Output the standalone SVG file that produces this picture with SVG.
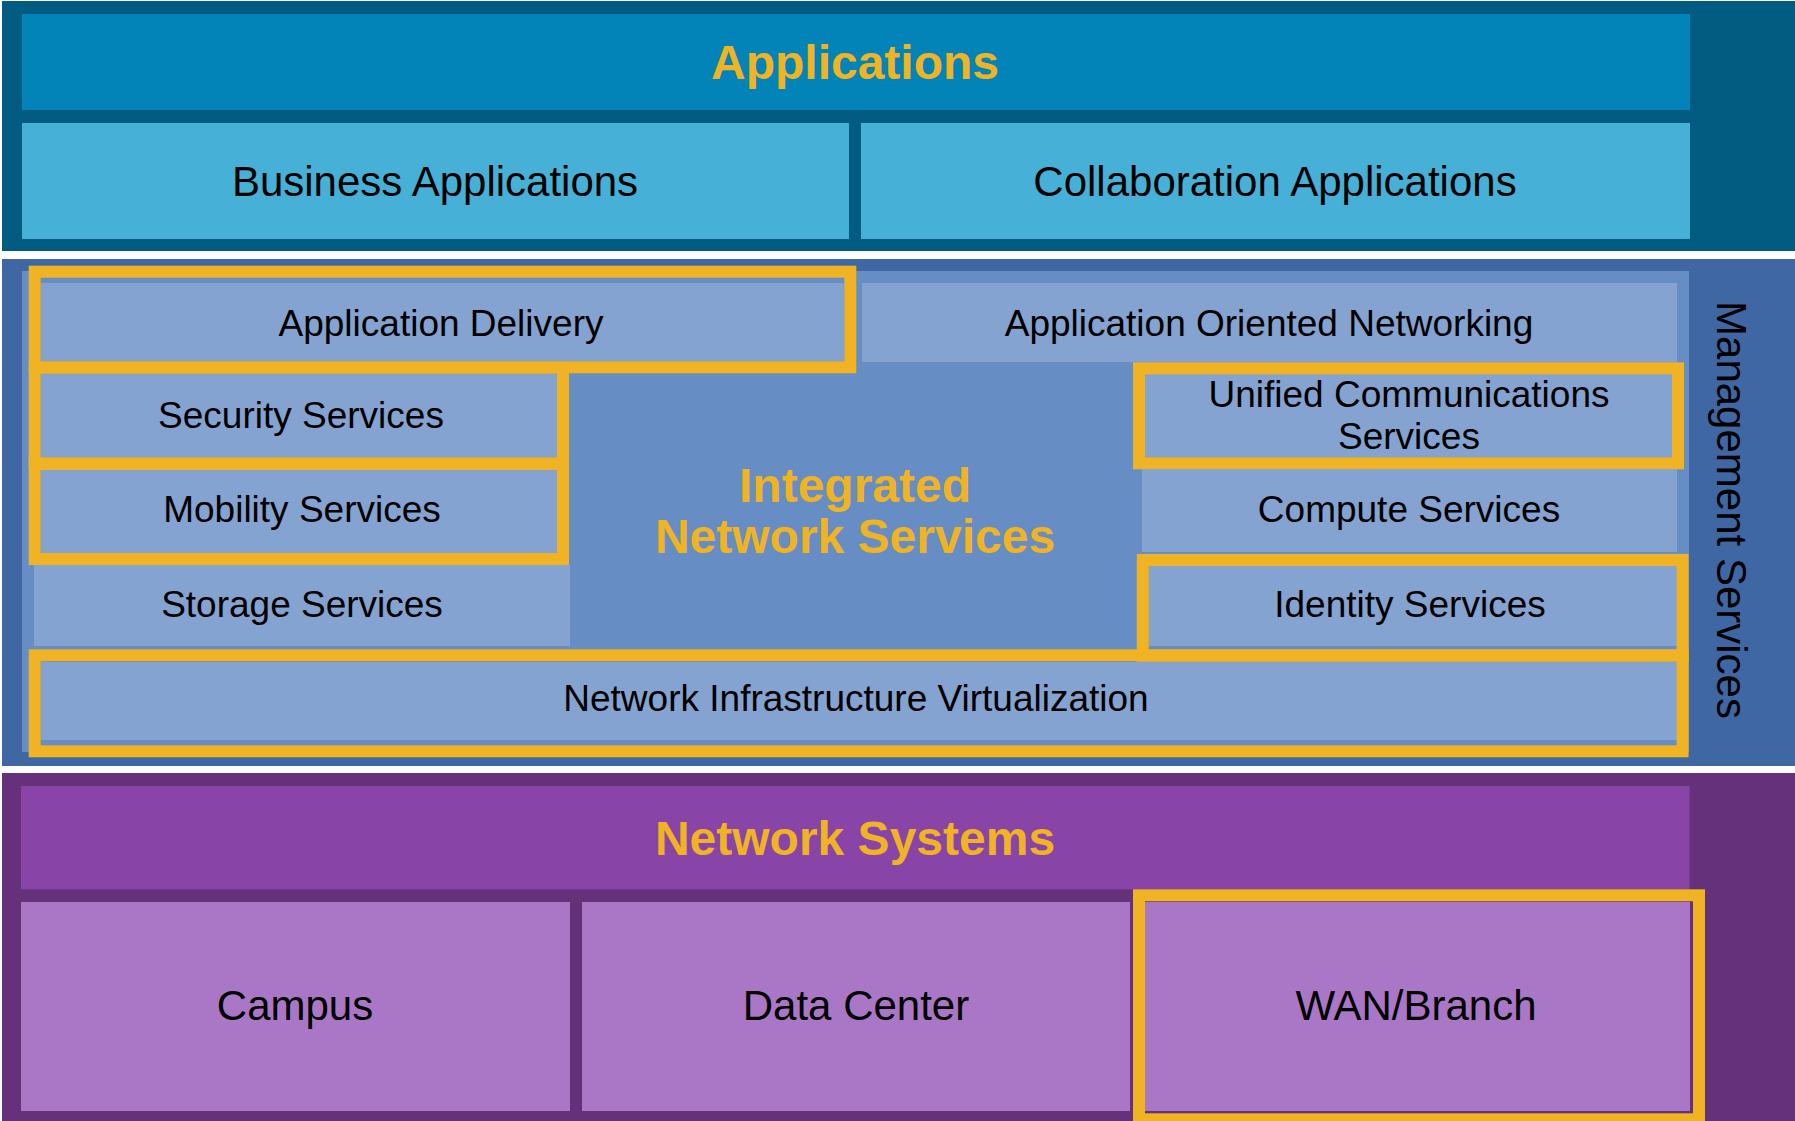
<svg xmlns="http://www.w3.org/2000/svg" width="1795" height="1121" viewBox="0 0 1795 1121">
<style>
.t{font-family:"Liberation Sans",Arial,sans-serif;fill:#000;text-anchor:middle}
.h{font-family:"Liberation Sans",Arial,sans-serif;font-weight:bold;fill:#efb324;text-anchor:middle;font-size:48px}
.s{font-size:37px}
.b{font-size:42px}
.lb{fill:#84a3d0}
.y{fill:none;stroke:#efb324;stroke-width:12}
.app{fill:#46b0d6}
.sys{fill:#a977c6}
</style>
<rect x="0" y="0" width="1795" height="1121" fill="#ffffff"/>
<g id="applications">
  <rect x="2" y="1" width="1793" height="250" fill="#025c82"/>
  <rect x="22" y="14" width="1668" height="96" fill="#0284b8"/>
  <text class="h" x="855" y="79">Applications</text>
</g>
<g id="business-applications">
  <rect class="app" x="22" y="123" width="827" height="116"/>
  <text class="t b" x="435" y="196">Business Applications</text>
</g>
<g id="collaboration-applications">
  <rect class="app" x="861" y="123" width="829" height="116"/>
  <text class="t b" x="1275" y="196">Collaboration Applications</text>
</g>
<g id="integrated-network-services">
  <rect x="2" y="259" width="1793" height="507" fill="#3f67a3"/>
  <rect x="22" y="271" width="1667" height="481" fill="#668dc4"/>
  <text class="h" x="855" y="502">Integrated</text>
  <text class="h" x="855" y="553">Network Services</text>
</g>
<g id="management-services">
  <text class="t" font-size="42" transform="translate(1717,510) rotate(90)" x="0" y="0">Management Services</text>
</g>
<g id="application-delivery">
  <rect class="lb" x="41" y="283" width="803" height="78"/>
  <rect class="y" x="34.7" y="271.7" width="815.6" height="95.6"/>
  <text class="t s" x="441" y="336">Application Delivery</text>
</g>
<g id="application-oriented-networking">
  <rect class="lb" x="862" y="283" width="815" height="79"/>
  <text class="t s" x="1269" y="336">Application Oriented Networking</text>
</g>
<g id="security-services">
  <rect class="lb" x="41" y="374" width="516" height="83"/>
  <rect class="y" x="34.7" y="367.7" width="528.3" height="96.3"/>
  <text class="t s" x="301" y="428">Security Services</text>
</g>
<g id="mobility-services">
  <rect class="lb" x="41" y="470" width="516" height="83"/>
  <rect class="y" x="34.7" y="463.3" width="528.3" height="95.7"/>
  <text class="t s" x="302" y="522">Mobility Services</text>
</g>
<g id="storage-services">
  <rect class="lb" x="34" y="565" width="536" height="81"/>
  <text class="t s" x="302" y="617">Storage Services</text>
</g>
<g id="unified-communications-services">
  <rect class="lb" x="1145" y="374" width="528" height="83"/>
  <rect class="y" x="1139" y="368.3" width="539" height="95"/>
  <text class="t s" x="1409" y="407">Unified Communications</text>
  <text class="t s" x="1409" y="449">Services</text>
</g>
<g id="compute-services">
  <rect class="lb" x="1142" y="469" width="535" height="83"/>
  <text class="t s" x="1409" y="522">Compute Services</text>
</g>
<g id="identity-services">
  <rect class="lb" x="1149" y="566" width="528" height="80"/>
  <rect class="y" x="1142.8" y="560" width="539.8" height="95.7"/>
  <text class="t s" x="1410" y="617">Identity Services</text>
</g>
<g id="network-infrastructure-virtualization">
  <rect class="lb" x="41" y="662" width="1636" height="78"/>
  <rect class="y" x="34.7" y="655.3" width="1647.9" height="96"/>
  <text class="t s" x="856" y="711">Network Infrastructure Virtualization</text>
</g>
<g id="network-systems">
  <rect x="2" y="773" width="1793" height="348" fill="#65317a"/>
  <rect x="21" y="786" width="1668.5" height="103.3" fill="#8944a7"/>
  <text class="h" x="855" y="855">Network Systems</text>
</g>
<g id="campus">
  <rect class="sys" x="21" y="902" width="549" height="209"/>
  <text class="t b" x="295" y="1020">Campus</text>
</g>
<g id="data-center">
  <rect class="sys" x="582" y="902" width="548" height="209"/>
  <text class="t b" x="856" y="1020">Data Center</text>
</g>
<g id="wan-branch">
  <rect class="sys" x="1145" y="902" width="545" height="209"/>
  <rect class="y" x="1139" y="895.3" width="560" height="224"/>
  <text class="t b" x="1416" y="1020">WAN/Branch</text>
</g>
<g id="connectors"></g>
</svg>
